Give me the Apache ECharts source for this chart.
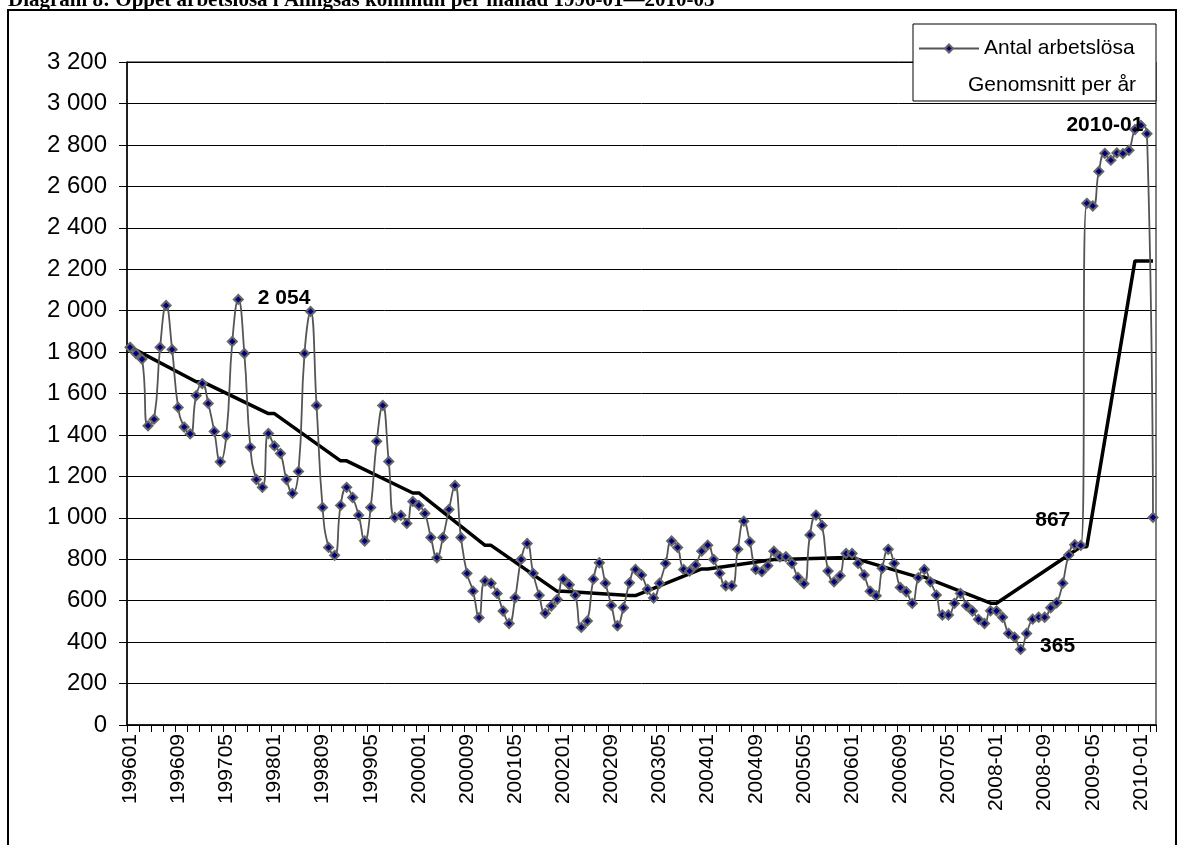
<!DOCTYPE html>
<html><head><meta charset="utf-8">
<script src="https://cdn.jsdelivr.net/npm/echarts@6/dist/echarts.min.js"></script>
<style>html,body{margin:0;padding:0;background:#fff}#c{width:1182px;height:845px}</style>
</head><body><div id="c"></div>
<script>
const titleText = 'Diagram 8: Öppet arbetslösa i Alingsås kommun per månad 1996-01\u20142010-03';
const seriesNames = ['Antal arbetslösa', 'Genomsnitt per år'];

// months 1996-01 .. 2010-03
const firstYear = 1996, lastYear = 2010, lastMonth = 3, dashFromYear = 2008;

const v1996 = [1823,1793,1766,1444,1476,1823,2025,1812,1533,1438,1405,1590];
const v1997 = [1648,1552,1417,1270,1397,1851,2054,1793,1340,1185,1147,1407];
const v1998 = [1347,1311,1185,1118,1224,1793,1996,1542,1050,857,819,1060];
const v1999 = [1147,1098,1012,888,1050,1369,1542,1272,1002,1012,973,1079];
const v2000 = [1060,1021,905,807,905,1040,1156,905,732,646,518,695];
const v2001 = [684,635,550,490,614,799,876,732,626,539,574,606];
const v2002 = [704,677,626,471,502,704,783,684,577,479,566,686];
const v2003 = [751,724,655,613,684,780,888,857,751,743,772,839];
const v2004 = [868,799,732,672,672,848,984,884,751,740,769,839];
const v2005 = [812,812,780,712,682,917,1013,963,743,691,720,828];
const v2006 = [828,780,724,646,624,756,848,780,664,643,587,711];
const v2007 = [751,691,627,531,531,587,635,576,550,510,490,551];
const v2008 = [551,520,442,424,365,442,511,520,520,566,590,684];
const v2009 = [820,870,867,2518,2505,2672,2759,2726,2761,2758,2774,2874];
const v2010 = [2894,2854,1002];

const avgCats   = ['199601','199612','199701','199712','199801','199812','199901','199912','200001','200012','200101','200112','200201','200212','200301','200312','200401','200412','200501','200512','200601','200612','200701','200712','2008-01','2009-03','2009-04','2009-12','2010-03'];
const avgValues = [1825,1657,1657,1503,1503,1275,1275,1120,1120,867,867,645,645,625,625,753,753,799,799,808,808,714,714,588,588,860,860,2240,2240];

const yTicks = {min: 0, max: 3200, step: 200};

const pointLabels = [
  {cat: '199707', text: '2 054', position: 'right', distance: 14, offset: [0, -1]},
  {cat: '2008-05', text: '365', position: 'right', distance: 14, offset: [0, -3]},
  {cat: '2009-03', text: '867', position: 'left', distance: 5, offset: [0, -25]},
  {cat: '2010-01', text: '2010-01', position: 'left', distance: -8, offset: [0, 0]}
];

const categories = [];
for (let y = firstYear; y <= lastYear; y++) {
  for (let m = 1; m <= 12; m++) {
    if (y === lastYear && m > lastMonth) break;
    const mm = (m < 10 ? '0' : '') + m;
    categories.push(y >= dashFromYear ? y + '-' + mm : '' + y + mm);
  }
}
const monthly = [].concat(v1996,v1997,v1998,v1999,v2000,v2001,v2002,v2003,v2004,v2005,v2006,v2007,v2008,v2009,v2010);

const antalData = monthly.map((v, i) => {
  const pl = pointLabels.find(p => p.cat === categories[i]);
  if (!pl) return v;
  return {value: v, label: {show: true, formatter: pl.text, position: pl.position, distance: pl.distance, offset: pl.offset,
    fontFamily: 'Liberation Sans, Arial, sans-serif', fontWeight: 'bold', fontSize: 21, color: '#000'}};
});
const avgData = avgCats.map((c, i) => [c, avgValues[i]]);

function fmt(v) {
  if (v >= 1000) { const r = v % 1000; return Math.floor(v / 1000) + ' ' + String(r).padStart(3, '0'); }
  return String(v);
}

const chart = echarts.init(document.getElementById('c'), null, {renderer: 'canvas'});
const font = 'Liberation Sans, Arial, sans-serif';
chart.setOption({
  animation: false,
  backgroundColor: '#fff',
  title: {text: titleText, left: 3, top: -15, textStyle: {fontFamily: 'Liberation Serif, Times New Roman, serif', fontWeight: 'bold', fontSize: 21, color: '#000'}},
  graphic: [
    {type: 'rect', z: 0, silent: true, shape: {x: 8, y: 10, width: 1168, height: 860}, style: {fill: 'none', stroke: '#000', lineWidth: 2}},
    {type: 'rect', z: 50, silent: true, shape: {x: 913, y: 24, width: 243, height: 77}, style: {fill: '#fff', stroke: '#000', lineWidth: 1}}
  ],
  legend: [
    {data: [seriesNames[0]], left: 913, top: 33, z: 60, orient: 'vertical', itemWidth: 60, itemHeight: 10, itemGap: 0, selectedMode: false,
      textStyle: {fontFamily: font, fontSize: 21, color: '#000'}},
    {data: [{name: seriesNames[1], icon: 'none'}], left: 958, top: 70, z: 60, itemWidth: 0, itemHeight: 10, selectedMode: false,
      textStyle: {fontFamily: font, fontSize: 21, color: '#000'}}
  ],
  grid: {left: 127, right: 26, top: 62, bottom: 120, show: true, borderColor: '#000', borderWidth: 1, containLabel: false},
  xAxis: {
    type: 'category', data: categories, boundaryGap: true,
    axisLine: {lineStyle: {color: '#000', width: 1.5}},
    axisTick: {show: true, interval: 1, length: 7, lineStyle: {color: '#000'}},
    axisLabel: {interval: 7, rotate: 90, margin: 9, fontFamily: font, fontSize: 21, color: '#000'},
    splitLine: {show: false}
  },
  yAxis: {
    type: 'value', min: yTicks.min, max: yTicks.max, interval: yTicks.step,
    axisLine: {show: true, lineStyle: {color: '#000', width: 1.5}},
    axisTick: {show: true, length: 8, lineStyle: {color: '#000'}},
    axisLabel: {formatter: fmt, margin: 20, fontFamily: font, fontSize: 24, color: '#000'},
    splitLine: {show: true, lineStyle: {color: '#000', width: 1}}
  },
  series: [
    {name: seriesNames[0], type: 'line', data: antalData, smooth: 0.5, z: 3,
      symbol: 'diamond', symbolSize: 9, showAllSymbol: true,
      lineStyle: {color: '#555', width: 1.8},
      itemStyle: {color: '#000080', borderColor: '#666', borderWidth: 2}},
    {name: seriesNames[1], type: 'line', data: avgData, z: 2, symbol: 'none', connectNulls: true,
      lineStyle: {color: '#000', width: 3.5},
      itemStyle: {color: '#000'}}
  ]
});
</script></body></html>
